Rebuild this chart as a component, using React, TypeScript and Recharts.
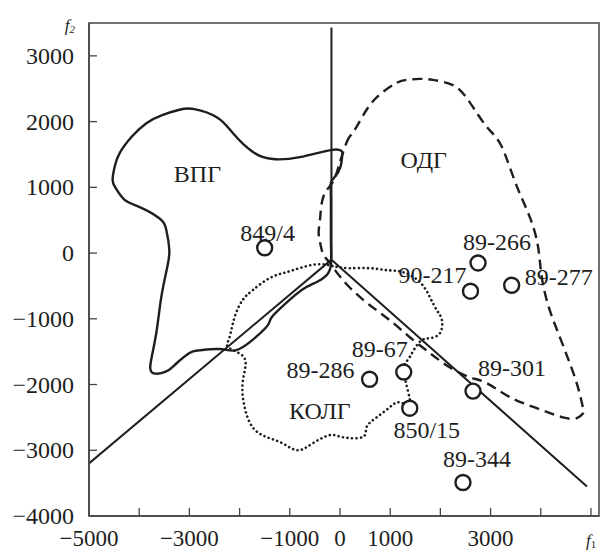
import React from "react";
import { ComposedChart, Line, Scatter, XAxis, YAxis, ReferenceArea } from "recharts";

const font = '"Liberation Serif", "Times New Roman", serif';
const ink = "#1e1e1e";

const xTicks = [-5000, -4000, -3000, -2000, -1000, 0, 1000, 2000, 3000, 4000, 5000];
const xLabeled = [-5000, -3000, -1000, 0, 1000, 3000];
const yTicks = [-4000, -3000, -2000, -1000, 0, 1000, 2000, 3000, 3500];

const sampleNames = ["849/4", "89-266", "90-217", "89-277", "89-301", "89-67", "850/15", "89-286", "89-344"];
const sampleX = [-1500, 2750, 2600, 3420, 2650, 1270, 1390, 590, 2450];
const sampleY = [80, -150, -580, -490, -2100, -1810, -2360, -1920, -3490];

const regionNames = ["ВПГ", "ОДГ", "КОЛГ"];
const regionX = [-2840, 1670, -400];
const regionY = [1080, 1300, -2530];

// discriminant boundaries from the common node
const lineUp = [[-170, 3430], [-170, -100]];
const lineLeft = [[-170, -100], [-5000, -3200]];
const lineRight = [[-170, -100], [4920, -3550]];

// ВПГ field (solid)
const vpg = [
  [50, 1540], [-165, 1570], [-800, 1460], [-1340, 1430], [-1740, 1540], [-2140, 1830],
  [-2440, 2060], [-2900, 2190], [-3200, 2180], [-3540, 2100], [-3850, 1980], [-4150, 1770],
  [-4390, 1520], [-4490, 1310], [-4530, 1110], [-4470, 990], [-4290, 810], [-3990, 700],
  [-3600, 530], [-3460, 350], [-3400, 50], [-3440, -210], [-3560, -670], [-3650, -1170],
  [-3750, -1580], [-3780, -1740], [-3710, -1830], [-3460, -1800], [-3260, -1680], [-3000, -1520],
  [-2800, -1480], [-2400, -1460], [-2080, -1480], [-1740, -1320], [-1440, -1100], [-1360, -975],
  [-1060, -750], [-740, -550], [-460, -440], [-270, -340], [-180, -180], [-180, 200],
  [-180, 800], [-180, 1070], [-100, 1160], [10, 1310], [50, 1540],
];

// ОДГ field (dashed)
const odg = [
  [190, 1770], [130, 1680], [30, 1460], [-50, 1260], [-150, 1070], [-290, 930], [-370, 730],
  [-400, 500], [-425, 300], [-385, 120], [-325, -30], [-200, -150], [-100, -260], [190, -520],
  [590, -790], [990, -1020], [1390, -1280], [1790, -1520], [2190, -1740], [2590, -1890],
  [2925, -1980], [3380, -2190], [3920, -2360], [4440, -2500], [4720, -2510], [4840, -2440],
  [4840, -2350], [4740, -2040], [4580, -1680], [4380, -1280], [4180, -870], [4040, -460],
  [3980, -110], [3920, 200], [3780, 550], [3580, 910], [3380, 1310], [3180, 1680], [2925, 1920],
  [2650, 2220], [2390, 2480], [2130, 2590], [1850, 2635], [1590, 2650], [1330, 2635],
  [1130, 2590], [790, 2410], [530, 2180], [330, 1920], [190, 1770],
];

// КОЛГ field (dotted)
const kolg = [
  [-70, -210], [190, -230], [590, -230], [930, -260], [1250, -290], [1590, -440], [1790, -670],
  [1930, -870], [2030, -1020], [1990, -1220], [1790, -1295], [1630, -1325], [1490, -1450],
  [1390, -1580], [1290, -1690], [1270, -1810], [1350, -2090], [1390, -2315], [1190, -2270],
  [990, -2345], [730, -2500], [530, -2650], [450, -2800], [50, -2800], [-205, -2770],
  [-545, -2895], [-845, -3000], [-1140, -2895], [-1460, -2800], [-1740, -2650], [-1900, -2345],
  [-1940, -1980], [-1880, -1660], [-2040, -1510], [-2240, -1420], [-2200, -1280], [-2100, -975],
  [-1940, -715], [-1740, -565], [-1400, -380], [-1065, -290], [-745, -215], [-405, -170], [-70, -210],
];

const toPts = (arr: number[][]) => arr.map(([x, y]) => ({ x, y }));

const samples = sampleNames.map((name, i) => ({ name, x: sampleX[i], y: sampleY[i] }));
const regions = regionNames.map((name, i) => ({ name, x: regionX[i], y: regionY[i] }));

// where each sample label sits relative to its circle (pixels)
const labelPos: Record<string, { anchor: "start" | "middle" | "end"; dx: number; dy: number }> = {
  "849/4": { anchor: "middle", dx: 3, dy: -7 },
  "89-266": { anchor: "middle", dx: 19, dy: -13 },
  "90-217": { anchor: "end", dx: -4, dy: -8 },
  "89-277": { anchor: "start", dx: 13, dy: 0 },
  "89-301": { anchor: "start", dx: 5, dy: -15 },
  "89-67": { anchor: "end", dx: 4, dy: -15 },
  "850/15": { anchor: "middle", dx: 17, dy: 30 },
  "89-286": { anchor: "end", dx: -15, dy: -1 },
  "89-344": { anchor: "middle", dx: 14, dy: -15 },
};

const fmt = (v: number) => (v < 0 ? "\u2212" + Math.abs(v) : String(v));

const XTick = (props: any) => {
  const { x, y, payload } = props;
  const v = payload.value;
  return (
    <g>
      {v > -5000 && <line x1={x} x2={x} y1={y} y2={y - 8} stroke="#444" strokeWidth={1.3} />}
      {xLabeled.includes(v) && (
        <text x={x} y={y + 30} textAnchor="middle" fontFamily={font} fontSize={23} fill={ink}>
          {fmt(v)}
        </text>
      )}
      {v === 5000 && (
        <text x={x - 5} y={y + 30} fontFamily={font} fontSize={17} fill={ink}>
          <tspan fontStyle="italic">f</tspan>
          <tspan fontSize={11} dy={2}>1</tspan>
        </text>
      )}
    </g>
  );
};

const YTick = (props: any) => {
  const { x, y, payload } = props;
  const v = payload.value;
  if (v === 3500) {
    return (
      <text x={x - 14} y={y + 8} textAnchor="end" fontFamily={font} fontSize={17} fontStyle="italic" fill={ink}>
        f<tspan fontSize={11} dy={2}>2</tspan>
      </text>
    );
  }
  return (
    <g>
      {v > -4000 && <line x1={x} x2={x + 8} y1={y} y2={y} stroke="#444" strokeWidth={1.3} />}
      <text x={x - 15} y={y + 8} textAnchor="end" fontFamily={font} fontSize={24} fill={ink}>
        {fmt(v)}
      </text>
    </g>
  );
};

const SampleMark = (props: any) => {
  const { cx, cy, payload } = props;
  const lp = labelPos[payload.name];
  return (
    <g>
      <circle cx={cx} cy={cy} r={7.5} fill="#fff" stroke={ink} strokeWidth={2.4} />
      <text x={cx + lp.dx} y={cy + lp.dy} textAnchor={lp.anchor} fontFamily={font} fontSize={24} fill={ink}>
        {payload.name}
      </text>
    </g>
  );
};

const RegionName = (props: any) => {
  const { cx, cy, payload } = props;
  return (
    <text x={cx} y={cy} textAnchor="middle" fontFamily={font} fontSize={24} fill={ink}>
      {payload.name}
    </text>
  );
};

export default function App() {
  return (
    <div style={{ position: "absolute", left: 0, top: 0, background: "#fff" }}>
      <ComposedChart width={602} height={552} margin={{ top: 23, right: 3, bottom: 0, left: 0 }}>
        <XAxis
          dataKey="x"
          type="number"
          domain={[-5000, 5160]}
          ticks={xTicks}
          interval={0}
          allowDataOverflow
          height={36}
          tickSize={0}
          tickMargin={0}
          tickLine={false}
          axisLine={{ stroke: "#444", strokeWidth: 1.5 }}
          tick={<XTick />}
        />
        <YAxis
          dataKey="y"
          type="number"
          domain={[-4000, 3500]}
          ticks={yTicks}
          interval={0}
          allowDataOverflow
          width={89}
          tickSize={0}
          tickMargin={0}
          tickLine={false}
          axisLine={{ stroke: "#444", strokeWidth: 1.5 }}
          tick={<YTick />}
        />
        <ReferenceArea x1={-5000} x2={5160} y1={-4000} y2={3500} fill="none" stroke="#444" strokeWidth={1.5} />
        <Line data={toPts(lineUp)} dataKey="y" type="linear" stroke={ink} strokeWidth={2} dot={false} activeDot={false} isAnimationActive={false} />
        <Line data={toPts(lineLeft)} dataKey="y" type="linear" stroke={ink} strokeWidth={2} dot={false} activeDot={false} isAnimationActive={false} />
        <Line data={toPts(lineRight)} dataKey="y" type="linear" stroke={ink} strokeWidth={2} dot={false} activeDot={false} isAnimationActive={false} />
        <Line data={toPts(vpg)} dataKey="y" type="natural" stroke={ink} strokeWidth={2.4} dot={false} activeDot={false} isAnimationActive={false} />
        <Line data={toPts(odg)} dataKey="y" type="natural" stroke={ink} strokeWidth={2.4} strokeDasharray="10 6" dot={false} activeDot={false} isAnimationActive={false} />
        <Line data={toPts(kolg)} dataKey="y" type="natural" stroke={ink} strokeWidth={2.6} strokeLinecap="round" strokeDasharray="0.1 4.4" dot={false} activeDot={false} isAnimationActive={false} />
        <Scatter data={samples} dataKey="y" shape={(p: any) => <SampleMark {...p} />} isAnimationActive={false} />
        <Scatter data={regions} dataKey="y" shape={(p: any) => <RegionName {...p} />} isAnimationActive={false} />
      </ComposedChart>
    </div>
  );
}
